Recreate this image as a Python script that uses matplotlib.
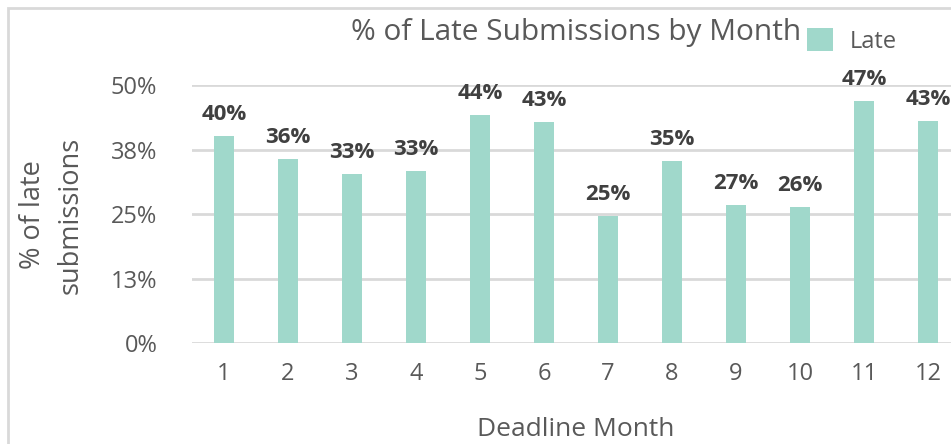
import matplotlib
matplotlib.use("Agg")
import matplotlib.pyplot as plt
from matplotlib.patches import Rectangle

# data
months = [1, 2, 3, 4, 5, 6, 7, 8, 9, 10, 11, 12]
late_pct = [0.401, 0.356, 0.328, 0.333, 0.442, 0.428, 0.246, 0.353, 0.267, 0.264, 0.469, 0.430]
y_ticks = [0, 0.125, 0.25, 0.375, 0.5]
y_tick_labels = ["0%", "13%", "25%", "38%", "50%"]

bar_color = "#A0D8CB"
text_color = "#595959"
grid_color = "#D9D9D9"

plt.rcParams['font.family'] = ['Open Sans', 'DejaVu Sans']

fig = plt.figure(figsize=(9.51, 4.44), dpi=100)
ax = fig.add_axes([192 / 951, 1 - 343 / 444, 768 / 951, 258 / 444])

# outer border of the chart area (cropped on the right/bottom)
fig.patches.append(Rectangle((8 / 951, -0.1), 1.1, 1.1 - 8 / 444, transform=fig.transFigure,
                             fill=False, edgecolor=grid_color, linewidth=2))

x = list(range(len(months)))
ax.bar(x, late_pct, width=0.3, color=bar_color, label="Late", zorder=3)

for xi, v in zip(x, late_pct):
    ax.annotate(f"{v * 100:.0f}%", (xi, v), xytext=(0, 8), textcoords="offset points",
                ha="center", va="bottom", fontsize=16, fontweight="bold", color="#404040")

ax.set_xlim(-0.5, len(months) - 0.5)
ax.set_ylim(0, 0.5)
ax.set_yticks(y_ticks)
ax.set_yticklabels(y_tick_labels)
ax.set_xticks(x)
ax.set_xticklabels([str(m) for m in months])
ax.tick_params(axis="y", length=0, pad=25, labelsize=17, labelcolor=text_color)
ax.tick_params(axis="x", length=0, pad=14, labelsize=17, labelcolor=text_color)
ax.grid(axis="y", color=grid_color, linewidth=2, zorder=0)
ax.set_axisbelow(True)
for s in ax.spines.values():
    s.set_visible(False)

fig.text(52 / 951, 1 - 215 / 444, "% of late\nsubmissions", rotation=90, ha="center", va="center",
         fontsize=19.5, color=text_color, linespacing=1.45)
fig.text(576 / 951, 1 - 436 / 444, "Deadline Month", ha="center", va="baseline",
         fontsize=19, color=text_color)
fig.text(576 / 951, 1 - 40 / 444, "% of Late Submissions by Month", ha="center", va="baseline",
         fontsize=21.5, color=text_color)

ax.legend(loc="center left", bbox_to_anchor=(807 / 951, 1 - 41 / 444), bbox_transform=fig.transFigure,
          frameon=False, fontsize=17, handlelength=1.1, handleheight=1.1, handletextpad=0.72,
          labelcolor=text_color, borderaxespad=0, borderpad=0)

fig.savefig("out.png", dpi=100)
plt.close(fig)
